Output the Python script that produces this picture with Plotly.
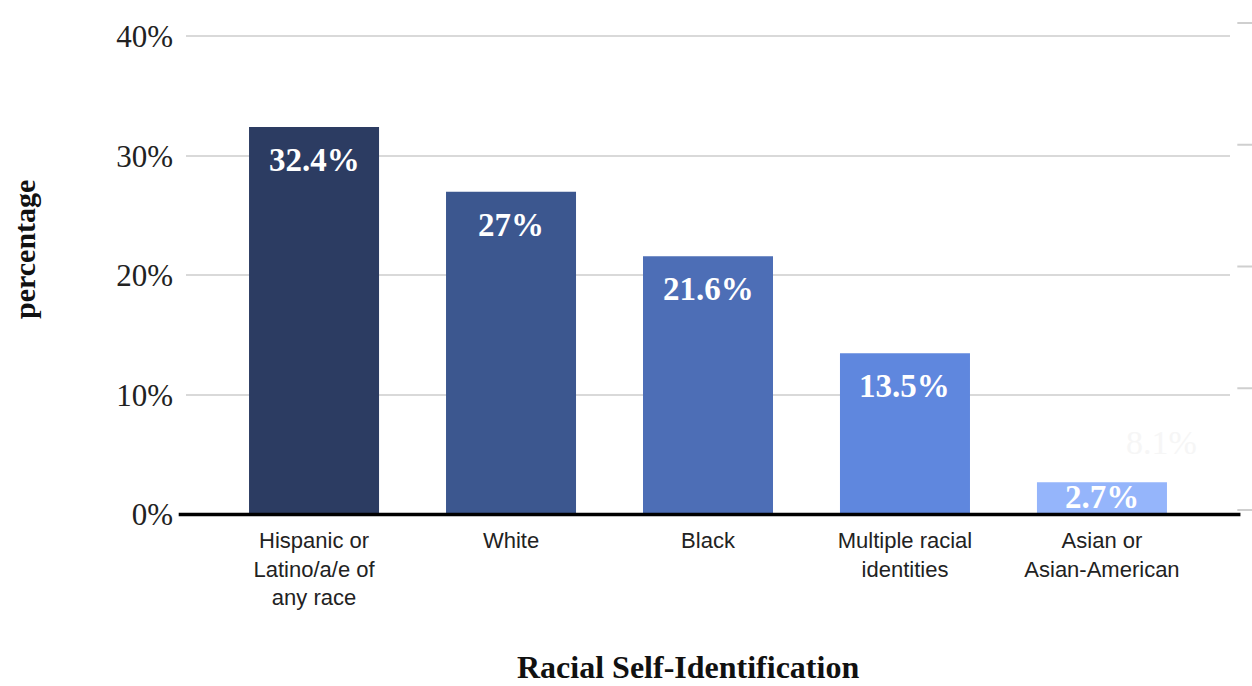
import plotly.graph_objects as go

categories = ["Hispanic or<br>Latino/a/e of<br>any race", "White", "Black",
              "Multiple racial<br>identities", "Asian or<br>Asian-American"]
values = [32.4, 27.0, 21.6, 13.5, 2.7]
value_labels = ["32.4%", "27%", "21.6%", "13.5%", "2.7%"]
colors = ["#2c3c62", "#3c578f", "#4d6eb6", "#5f87de", "#95b5fb"]
y_ticks = [0, 10, 20, 30, 40]
y_tick_labels = ["0%", "10%", "20%", "30%", "40%"]

SERIF = "Liberation Serif"
SANS = "Liberation Sans"

W, H = 1252, 686
ML, MR, MT, MB = 186, 22, 35, 169
PH = H - MT - MB

fig = go.Figure()
fig.add_trace(go.Bar(
    x=list(range(len(categories))), y=values,
    marker=dict(color=colors, line=dict(width=0)),
    width=0.66, hoverinfo="skip", showlegend=False,
))

for i, (v, lab) in enumerate(zip(values, value_labels)):
    if v < 5:
        fig.add_annotation(x=i, y=v / 2, text=f"<b>{lab}</b>", showarrow=False,
                           yanchor="middle", yshift=1,
                           font=dict(family=SERIF, size=33, color="white"))
    else:
        fig.add_annotation(x=i, y=v, text=f"<b>{lab}</b>", showarrow=False,
                           yanchor="middle", yshift=-33,
                           font=dict(family=SERIF, size=33, color="white"))

# faint ghost label in the original image
fig.add_annotation(x=4.3, y=6.0, text="8.1%", showarrow=False,
                   font=dict(family=SERIF, size=34, color="#f6f6f6"))

# axis titles
fig.add_annotation(xref="paper", yref="paper", x=(25 - ML) / (W - ML - MR), y=(H - MB - 250) / PH,
                   text="<b>percentage</b>", textangle=-90, showarrow=False,
                   xanchor="center", yanchor="middle",
                   font=dict(family=SERIF, size=30, color="#111111"))
fig.add_annotation(xref="paper", yref="paper", x=(688 - ML) / (W - ML - MR), y=(H - MB - 667) / PH,
                   text="<b>Racial Self-Identification</b>", showarrow=False,
                   xanchor="center", yanchor="middle",
                   font=dict(family=SERIF, size=32, color="#111111"))

# thick zero baseline
fig.add_shape(type="line", xref="paper", yref="y", x0=-0.007, x1=1.01, y0=0, y1=0,
              line=dict(color="black", width=3.5), layer="above")

# faint stray tick marks on the right edge (offset copy of the y ticks)
for t in y_ticks:
    p = 510 - t * 12.175
    yy = (H - MB - p) / PH
    fig.add_shape(type="line", xref="paper", yref="paper", x0=1.007, x1=1.03, y0=yy, y1=yy,
                  line=dict(color="#cfcfcf", width=2), layer="below")

fig.update_layout(
    width=W, height=H,
    margin=dict(l=ML, r=MR, t=MT, b=MB),
    paper_bgcolor="white", plot_bgcolor="white",
    xaxis=dict(
        tickmode="array", tickvals=list(range(len(categories))), ticktext=categories,
        range=[-0.65, 4.65], showgrid=False, zeroline=False, showline=False,
        ticks="", ticklabelstandoff=8,
        tickfont=dict(family=SANS, size=22, color="#222222"),
    ),
    yaxis=dict(
        range=[-0.2, 40.1], tickmode="array", tickvals=y_ticks, ticktext=y_tick_labels,
        showgrid=True, gridcolor="#d9d9d9", gridwidth=2, zeroline=False,
        showline=False, ticks="", ticklabelstandoff=12,
        tickfont=dict(family=SERIF, size=31, color="#222222"),
    ),
)

fig.write_html("out.html")
